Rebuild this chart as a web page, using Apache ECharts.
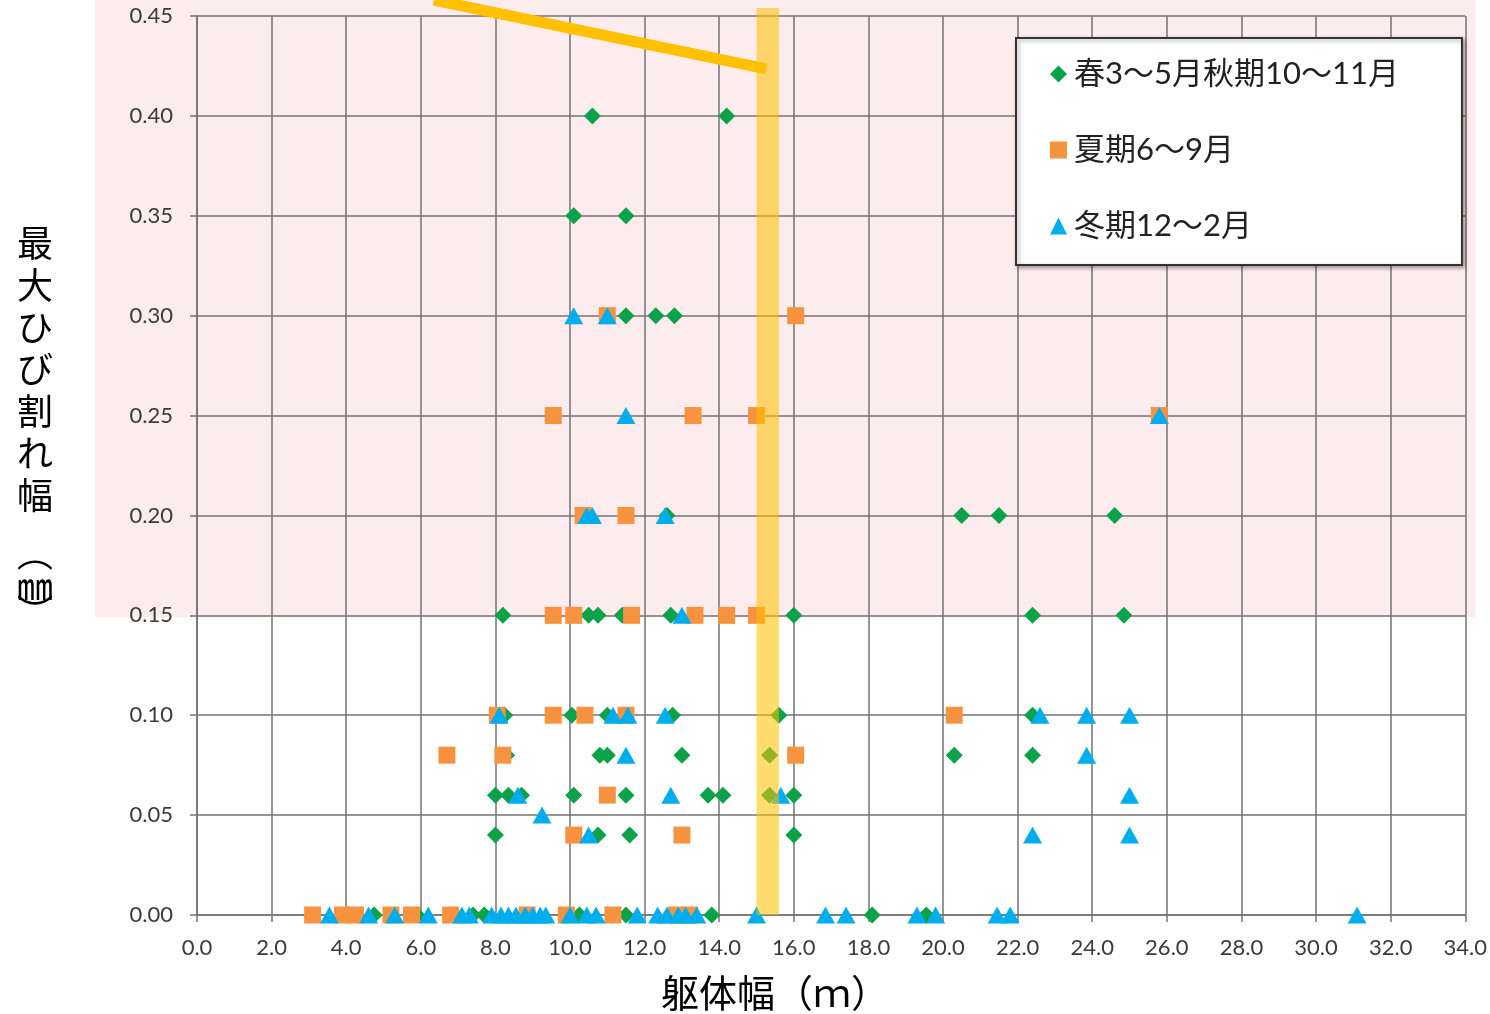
<!DOCTYPE html>
<html>
<head>
<meta charset="utf-8">
<script src="https://cdn.jsdelivr.net/npm/echarts@6/dist/echarts.min.js"></script>
<style>
  html, body { margin: 0; padding: 0; background: #fff; }
  #chart { width: 1490px; height: 1014px; }
</style>
</head>
<body>
<div id="chart"></div>
<script>
// Series names (legend)
const seriesNames = ['春3～5月秋期10～11月', '夏期6～9月', '冬期12～2月'];

// 躯体幅 (m), 最大ひび割れ幅 (mm) — spring / autumn
const springAutumnPts = [
  [10.6, 0.40], [14.2, 0.40],
  [10.1, 0.35], [11.5, 0.35],
  [11.5, 0.30], [12.3, 0.30], [12.8, 0.30],
  [12.6, 0.20], [20.5, 0.20], [21.5, 0.20], [24.6, 0.20],
  [8.2, 0.15], [10.5, 0.15], [10.75, 0.15], [11.4, 0.15], [12.7, 0.15], [16.0, 0.15], [22.4, 0.15], [24.85, 0.15],
  [8.25, 0.10], [10.05, 0.10], [11.0, 0.10], [12.75, 0.10], [15.6, 0.10], [22.4, 0.10],
  [8.3, 0.08], [10.8, 0.08], [11.0, 0.08], [13.0, 0.08], [15.35, 0.08], [20.3, 0.08], [22.4, 0.08],
  [8.0, 0.06], [8.35, 0.06], [8.7, 0.06], [10.1, 0.06], [11.5, 0.06], [13.7, 0.06], [14.1, 0.06], [15.35, 0.06], [16.0, 0.06],
  [8.0, 0.04], [10.75, 0.04], [11.6, 0.04], [16.0, 0.04],
  [4.75, 0], [5.9, 0], [7.4, 0], [7.7, 0], [10.25, 0], [11.5, 0], [13.8, 0], [18.1, 0], [19.55, 0]
];

// summer
const summerPts = [
  [11.0, 0.30], [16.05, 0.30],
  [9.55, 0.25], [13.3, 0.25], [15.0, 0.25], [25.8, 0.25],
  [10.35, 0.20], [11.5, 0.20],
  [9.55, 0.15], [10.1, 0.15], [11.65, 0.15], [13.35, 0.15], [14.2, 0.15], [15.0, 0.15],
  [8.05, 0.10], [9.55, 0.10], [10.4, 0.10], [11.5, 0.10], [20.3, 0.10],
  [6.7, 0.08], [8.2, 0.08], [16.05, 0.08],
  [11.0, 0.06],
  [10.1, 0.04], [13.0, 0.04],
  [3.1, 0], [3.9, 0], [4.25, 0], [5.2, 0], [5.75, 0], [6.8, 0], [8.85, 0], [9.9, 0], [11.15, 0], [12.85, 0], [13.2, 0]
];

// winter
const winterPts = [
  [10.1, 0.30], [11.0, 0.30],
  [11.5, 0.25], [25.8, 0.25],
  [10.45, 0.20], [10.6, 0.20], [12.55, 0.20],
  [13.0, 0.15],
  [8.1, 0.10], [11.15, 0.10], [11.55, 0.10], [12.55, 0.10], [22.6, 0.10], [23.85, 0.10], [25.0, 0.10],
  [11.5, 0.08], [23.85, 0.08],
  [8.6, 0.06], [12.7, 0.06], [15.65, 0.06], [25.0, 0.06],
  [9.25, 0.05],
  [10.5, 0.04], [22.4, 0.04], [25.0, 0.04],
  [3.55, 0], [4.6, 0], [5.3, 0], [6.2, 0], [7.1, 0], [7.3, 0], [7.9, 0], [8.15, 0], [8.35, 0], [8.55, 0],
  [8.8, 0], [9.0, 0], [9.2, 0], [9.35, 0], [10.0, 0], [10.45, 0], [10.7, 0], [11.8, 0], [12.35, 0], [12.6, 0],
  [12.9, 0], [13.1, 0], [13.4, 0], [15.0, 0], [16.85, 0], [17.4, 0], [19.3, 0], [19.8, 0], [21.45, 0], [21.8, 0],
  [31.1, 0]
];

// Axis ranges
const xRange = [0, 34, 2];
const yRange = [0, 0.45, 0.05];

// Annotations (data units): highlighted width band and trend stroke
const bandX = [15.0, 15.6];
const bandYTop = 0.454;
const trendLine = [[6.35, 0.458], [15.26, 0.4235]];
const shadeFromY = 0.149;

const chart = echarts.init(document.getElementById('chart'), null, { renderer: 'canvas' });

const gridColor = 'rgba(115,115,115,0.75)';
const labelFont = 'Lato, "Noto Sans CJK JP", sans-serif';
const cjkFont = '"Noto Sans CJK JP", sans-serif';

chart.setOption({
  animation: false,
  backgroundColor: '#ffffff',
  grid: { left: 197, right: 23, top: 16, bottom: 99, containLabel: false },
  xAxis: {
    type: 'value', min: xRange[0], max: xRange[1], interval: xRange[2],
    axisLine: { show: true, lineStyle: { color: gridColor, width: 2 } },
    axisTick: { show: true, length: 7, lineStyle: { color: gridColor, width: 2 } },
    splitLine: { show: true, lineStyle: { color: gridColor, width: 2 } },
    axisLabel: { margin: 22, fontSize: 22, color: '#3a3a3a', fontFamily: labelFont,
      formatter: v => v.toFixed(1) }
  },
  yAxis: {
    type: 'value', min: yRange[0], max: yRange[1], interval: yRange[2],
    axisLine: { show: true, lineStyle: { color: gridColor, width: 2 } },
    axisTick: { show: true, length: 7, lineStyle: { color: gridColor, width: 2 } },
    splitLine: { show: true, lineStyle: { color: gridColor, width: 2 } },
    axisLabel: { margin: 24, fontSize: 22, color: '#3a3a3a', fontFamily: labelFont,
      formatter: v => v.toFixed(2) }
  },
  legend: {
    orient: 'vertical', left: 1045, top: 51, z: 30,
    itemWidth: 17, itemHeight: 17, itemGap: 40,
    textStyle: { fontSize: 31, color: '#222', fontFamily: labelFont, lineHeight: 36, padding: [0, 0, 0, 2] },
    data: [
      { name: seriesNames[0], icon: 'diamond' },
      { name: seriesNames[1], icon: 'rect' },
      { name: seriesNames[2], icon: 'triangle' }
    ]
  },
  series: [
    { name: seriesNames[0], type: 'scatter', symbol: 'diamond', symbolSize: 17, z: 3,
      itemStyle: { color: '#0ba24a', opacity: 1 }, data: springAutumnPts },
    { name: seriesNames[1], type: 'scatter', symbol: 'rect', symbolSize: 17, z: 4,
      itemStyle: { color: '#f7923f', opacity: 1 }, data: summerPts },
    { name: seriesNames[2], type: 'scatter', symbol: 'triangle', symbolSize: [19, 17], z: 5,
      itemStyle: { color: '#00aeef', opacity: 1 }, data: winterPts }
  ]
});

// Decorations placed through the axis scales
function px(p) { return chart.convertToPixel({ gridIndex: 0 }, p); }
const gTopLeft = px([0, 0.45]);
const gBotRight = px([34, 0]);
const shadeY = px([0, shadeFromY])[1];
const bandL = px([bandX[0], 0]);
const bandR = px([bandX[1], bandYTop]);
const t0 = px(trendLine[0]);
const t1 = px(trendLine[1]);

chart.setOption({
  graphic: [
    { type: 'rect', z: -1, silent: true,
      shape: { x: gTopLeft[0] - 102, y: 0, width: (gBotRight[0] - gTopLeft[0]) + 112, height: shadeY },
      style: { fill: '#fdeced' } },
    { type: 'rect', z: 10, silent: true,
      shape: { x: bandL[0], y: bandR[1], width: bandR[0] - bandL[0], height: bandL[1] - bandR[1] },
      style: { fill: 'rgba(255,192,0,0.56)' } },
    { type: 'line', z: 11, silent: true,
      shape: { x1: t0[0], y1: t0[1], x2: t1[0], y2: t1[1] },
      style: { stroke: '#ffc000', lineWidth: 11, lineCap: 'butt' } },
    { type: 'rect', z: 20, silent: true,
      shape: { x: 1016, y: 38, width: 446, height: 227 },
      style: { fill: '#ffffff', stroke: '#333333', lineWidth: 2,
        shadowBlur: 4, shadowOffsetX: 2, shadowOffsetY: 2, shadowColor: 'rgba(0,0,0,0.35)' } },
    { type: 'text', z: 20, silent: true, x: 775, y: 993,
      style: { text: '躯体幅（ｍ）', fontSize: 38, fill: '#000', fontFamily: cjkFont,
        align: 'center', verticalAlign: 'middle' } },
    { type: 'text', z: 20, silent: true, x: 35, y: 222,
      style: { text: '最\n大\nひ\nび\n割\nれ\n幅', fontSize: 36, lineHeight: 42, fill: '#000',
        fontFamily: cjkFont, align: 'center', verticalAlign: 'top' } },
    { type: 'text', z: 20, silent: true, x: 35, y: 553,
      style: { text: '︵', fontSize: 36, fill: '#000', fontFamily: cjkFont, align: 'center', verticalAlign: 'middle' } },
    { type: 'text', z: 20, silent: true, x: 35, y: 586,
      style: { text: '㎜', fontSize: 36, fill: '#000', fontFamily: cjkFont, align: 'center', verticalAlign: 'middle' } },
    { type: 'text', z: 20, silent: true, x: 35, y: 612,
      style: { text: '︶', fontSize: 36, fill: '#000', fontFamily: cjkFont, align: 'center', verticalAlign: 'middle' } }
  ]
});
</script>
</body>
</html>
